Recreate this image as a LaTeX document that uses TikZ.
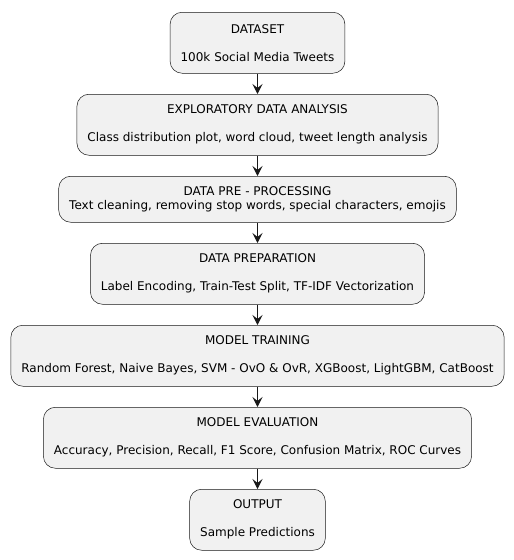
\documentclass[tikz,border=0pt]{standalone}
\usepackage{fontspec}
\setmainfont{DejaVu Sans}
\usepackage{tikz}
\usetikzlibrary{
	positioning,
	arrows.meta
}
\definecolor{boxfill}{HTML}{F1F1F1}
\definecolor{boxline}{HTML}{181818}

\begin{document}
\begin{tikzpicture}[
		x=1pt, y=1pt,
		node distance=20.5pt,
		stage/.style={draw=boxline, fill=boxfill, rounded corners=12pt, line width=0.5pt,
			align=center, inner xsep=10.5pt, inner ysep=0pt, font=\fontsize{12}{14}\selectfont},
		threeline/.style={minimum height=61pt},
		twoline/.style={minimum height=46pt},
		flow/.style={draw=boxline, line width=1pt, -{Stealth[length=10pt,width=10pt,inset=4pt]}}
	]
		\useasboundingbox (0,0) rectangle (514,-560);
		\draw
			node[stage,threeline,anchor=north] at (257.5,-12) (dataset) {DATASET\\[14pt]100k Social Media Tweets}
			node[stage,threeline,below=of dataset] (eda) {EXPLORATORY DATA ANALYSIS\\[14pt]Class distribution plot, word cloud, tweet length analysis}
			node[stage,twoline,below=of eda]       (prep) {DATA PRE - PROCESSING\\Text cleaning, removing stop words, special characters, emojis}
			node[stage,threeline,below=of prep]    (dataprep) {DATA PREPARATION\\[14pt]Label Encoding, Train-Test Split, TF-IDF Vectorization}
			node[stage,threeline,below=of dataprep] (train) {MODEL TRAINING\\[14pt]Random Forest, Naive Bayes, SVM - OvO \& OvR, XGBoost, LightGBM, CatBoost}
			node[stage,threeline,below=of train]   (eval) {MODEL EVALUATION\\[14pt]Accuracy, Precision, Recall, F1 Score, Confusion Matrix, ROC Curves}
			node[stage,threeline,below=of eval]    (output) {OUTPUT\\[14pt]Sample Predictions}

			(dataset)  edge[flow] (eda)
			(eda)      edge[flow] (prep)
			(prep)     edge[flow] (dataprep)
			(dataprep) edge[flow] (train)
			(train)    edge[flow] (eval)
			(eval)     edge[flow] (output)
		;
	\end{tikzpicture}
\end{document}
